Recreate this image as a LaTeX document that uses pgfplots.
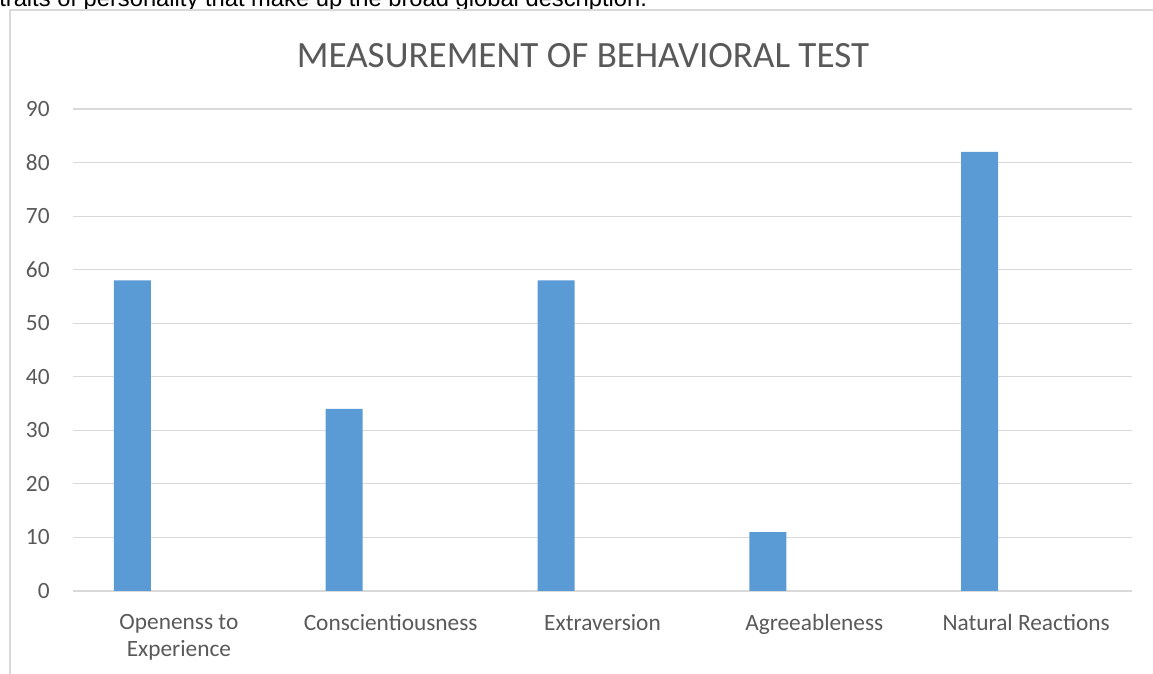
\documentclass[border=0pt]{standalone}
\usepackage{pgfplots}
\pgfplotsset{compat=1.18}
\usepackage{fontspec}
\setmainfont{Carlito}
\newfontfamily\arialfont{Liberation Sans}
\definecolor{barblue}{HTML}{5B9BD5}
\definecolor{txtgray}{HTML}{595959}
\definecolor{gridgray}{HTML}{D9D9D9}
\begin{document}
\begin{tikzpicture}[x=0.75pt,y=0.75pt]
\useasboundingbox (0,0) rectangle (1153,674);
\clip (0,0) rectangle (1153,674);
\coordinate (O) at (73,83);
% cut-off text above the chart
\node[anchor=base west, inner sep=0pt, font=\arialfont\fontsize{17.8}{20}\selectfont] at (-1,667) {traits of personality that make up the broad global description.};
% chart frame
\draw[gridgray, line width=1.5pt] (10,-5) -- (10,663.5) -- (1160,663.5);
% title
\node[anchor=base, inner sep=0pt, text=txtgray, font=\fontsize{27.8}{32}\selectfont] at (583,606) {MEASUREMENT OF BEHAVIORAL TEST};
\begin{axis}[
  at={(O)}, anchor=south west,
  scale only axis,
  width=794.25pt, height=361.5pt,
  xmin=-0.5, xmax=4.5, ymin=0, ymax=90,
  ytick={0,10,...,90},
  xtick=data,
  xticklabels={Openenss to\\Experience, Conscientiousness, Extraversion, Agreeableness, Natural Reactions},
  xticklabel style={align=center, text=txtgray, font=\fontsize{17.5}{20.25}\selectfont, yshift=-10pt},
  yticklabel style={text=txtgray, font=\fontsize{17.5}{20}\selectfont, xshift=-14pt},
  /pgf/number format/assume math mode=true,
  axis line style={draw=none},
  tick style={draw=none},
  ymajorgrids, major grid style={gridgray, line width=0.9pt},
  ybar, bar width=27.75pt, bar shift=-34.875pt,
  clip=false,
]
\addplot[fill=barblue, draw=none] coordinates {(0,58) (1,34) (2,58) (3,11) (4,82)};
\end{axis}
\end{tikzpicture}
\end{document}
